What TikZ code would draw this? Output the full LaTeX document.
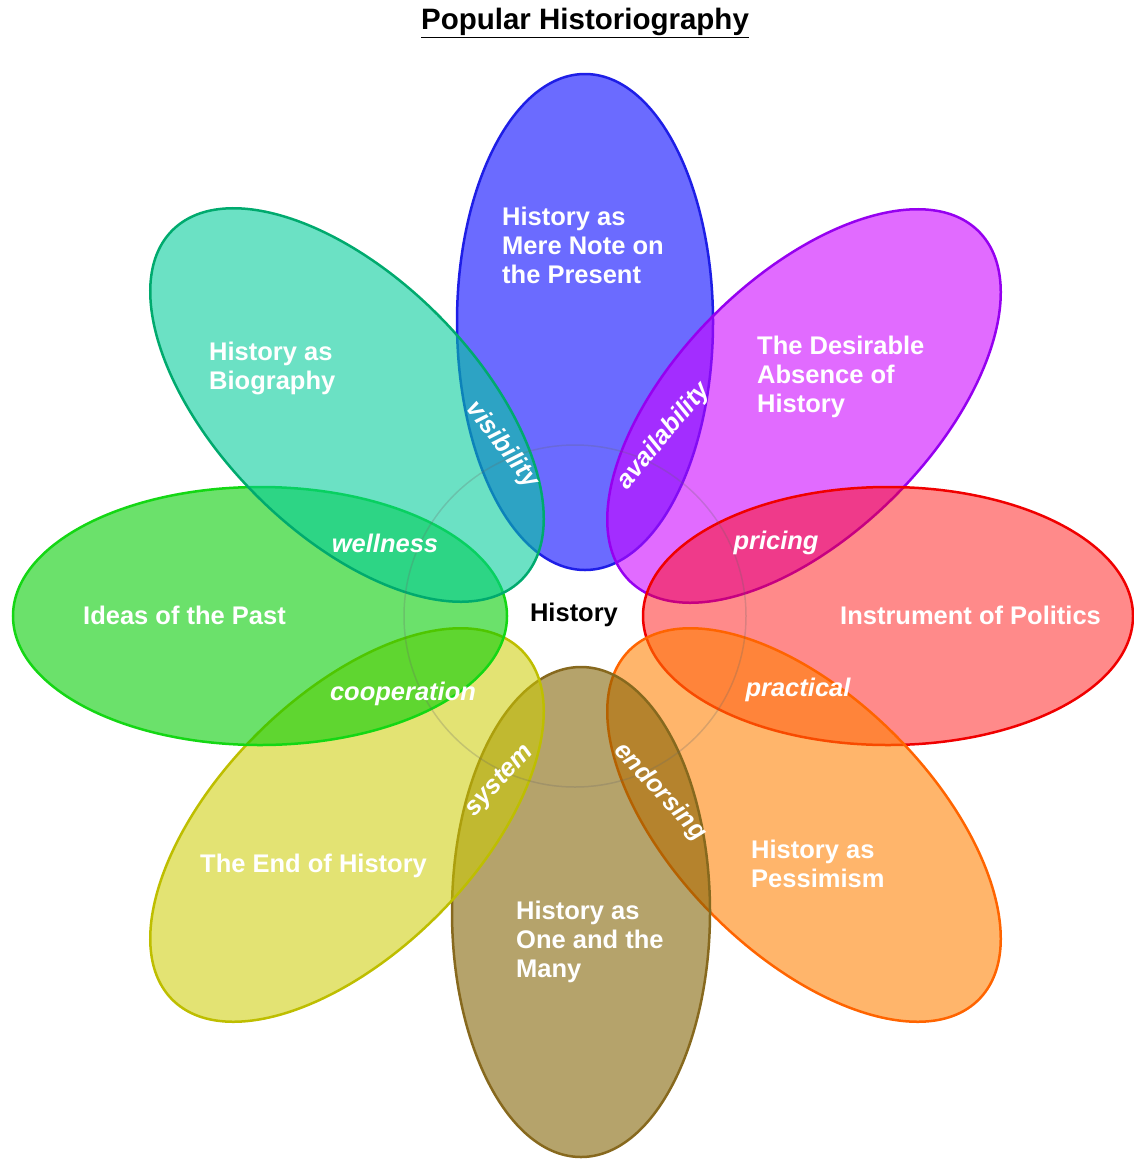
\documentclass[tikz,border=0pt]{standalone}
\usepackage{fontspec}
\setmainfont{Liberation Sans}

% petal colours: fill and rim
\definecolor{bluefill}{RGB}{0,0,255}
\definecolor{bluerim}{RGB}{30,30,230}
\definecolor{tealfill}{RGB}{0,204,153}
\definecolor{tealrim}{RGB}{0,170,110}
\definecolor{purplefill}{RGB}{204,0,255}
\definecolor{purplerim}{RGB}{150,0,240}
\definecolor{redfill}{RGB}{255,0,0}
\definecolor{redrim}{RGB}{240,0,0}
\definecolor{greenfill}{RGB}{0,204,0}
\definecolor{greenrim}{RGB}{20,215,20}
\definecolor{orangefill}{RGB}{255,128,0}
\definecolor{orangerim}{RGB}{255,100,0}
\definecolor{brownfill}{RGB}{128,96,0}
\definecolor{brownrim}{RGB}{135,105,30}
\definecolor{olivefill}{RGB}{204,204,0}
\definecolor{oliverim}{RGB}{190,190,0}

\begin{document}
\begin{tikzpicture}[x=1pt,y=-1pt,
    petal/.style 2 args={fill=#1, draw=#2, fill opacity=0.58, line width=2.5pt},
    petaltext/.style={text=white, inner sep=0pt, anchor=west, align=left,
        font=\fontsize{25.5}{29}\selectfont\bfseries},
    linktext/.style={text=white, inner sep=0pt,
        font=\fontsize{25.5}{29}\selectfont\bfseries\itshape}]
    \useasboundingbox (0,0) rectangle (1133,1159);

    \node[font=\fontsize{29.5}{32}\selectfont\bfseries] (title) at (585,23) {\underline{Popular Historiography}};

    % the eight petals
    \filldraw[petal={bluefill}{bluerim}]     (585,322) ellipse [x radius=128, y radius=248];
    \filldraw[petal={purplefill}{purplerim}, rotate around={45:(804,406)}] (804,406) ellipse [x radius=247, y radius=128];
    \filldraw[petal={redfill}{redrim}, fill opacity=0.46] (888,616) ellipse [x radius=245, y radius=129];
    \filldraw[petal={orangefill}{orangerim}, rotate around={-45:(804,825)}] (804,825) ellipse [x radius=247, y radius=128];
    \filldraw[petal={brownfill}{brownrim}]   (581,912) ellipse [x radius=129, y radius=245];
    \filldraw[petal={olivefill}{oliverim}, fill opacity=0.55, rotate around={45:(347,825)}] (347,825) ellipse [x radius=247, y radius=128];
    \filldraw[petal={greenfill}{greenrim}]   (260,616) ellipse [x radius=247, y radius=129];
    \filldraw[petal={tealfill}{tealrim}, rotate around={-45:(347,405)}] (347,405) ellipse [x radius=247, y radius=128];

    % faint ring round the centre
    \draw[black!60, opacity=0.25, line width=1.5pt] (575,616) circle [radius=171];

    \node[inner sep=0pt, font=\fontsize{25.5}{29}\selectfont\bfseries] (history) at (574,615) {History};

    \node[petaltext] (present)    at (502,245) {History as\\Mere Note on\\the Present};
    \node[petaltext] (absence)    at (757,377) {The Desirable\\Absence of\\History};
    \node[petaltext] (politics)   at (840,615) {Instrument of Politics};
    \node[petaltext] (pessimism)  at (751,864) {History as\\Pessimism};
    \node[petaltext] (onemany)    at (516,942) {History as\\One and the\\Many};
    \node[petaltext] (endhistory) at (200,866) {The End of History};
    \node[petaltext] (ideas)      at (83,615)  {Ideas of the Past};
    \node[petaltext] (biography)  at (209,368) {History as\\Biography};

    \node[linktext, rotate=-52] (visibility)   at (502,445) {visibility};
    \node[linktext, rotate=50]  (availability) at (664,436) {availability};
    \node[linktext]             (pricing)      at (776,543) {pricing};
    \node[linktext]             (practical)    at (798,690) {practical};
    \node[linktext, rotate=-47] (endorsing)    at (660,792) {endorsing};
    \node[linktext, rotate=47]  (system)       at (500,781) {system};
    \node[linktext]             (cooperation)  at (403,694) {cooperation};
    \node[linktext]             (wellness)     at (385,543) {wellness};
\end{tikzpicture}
\end{document}
